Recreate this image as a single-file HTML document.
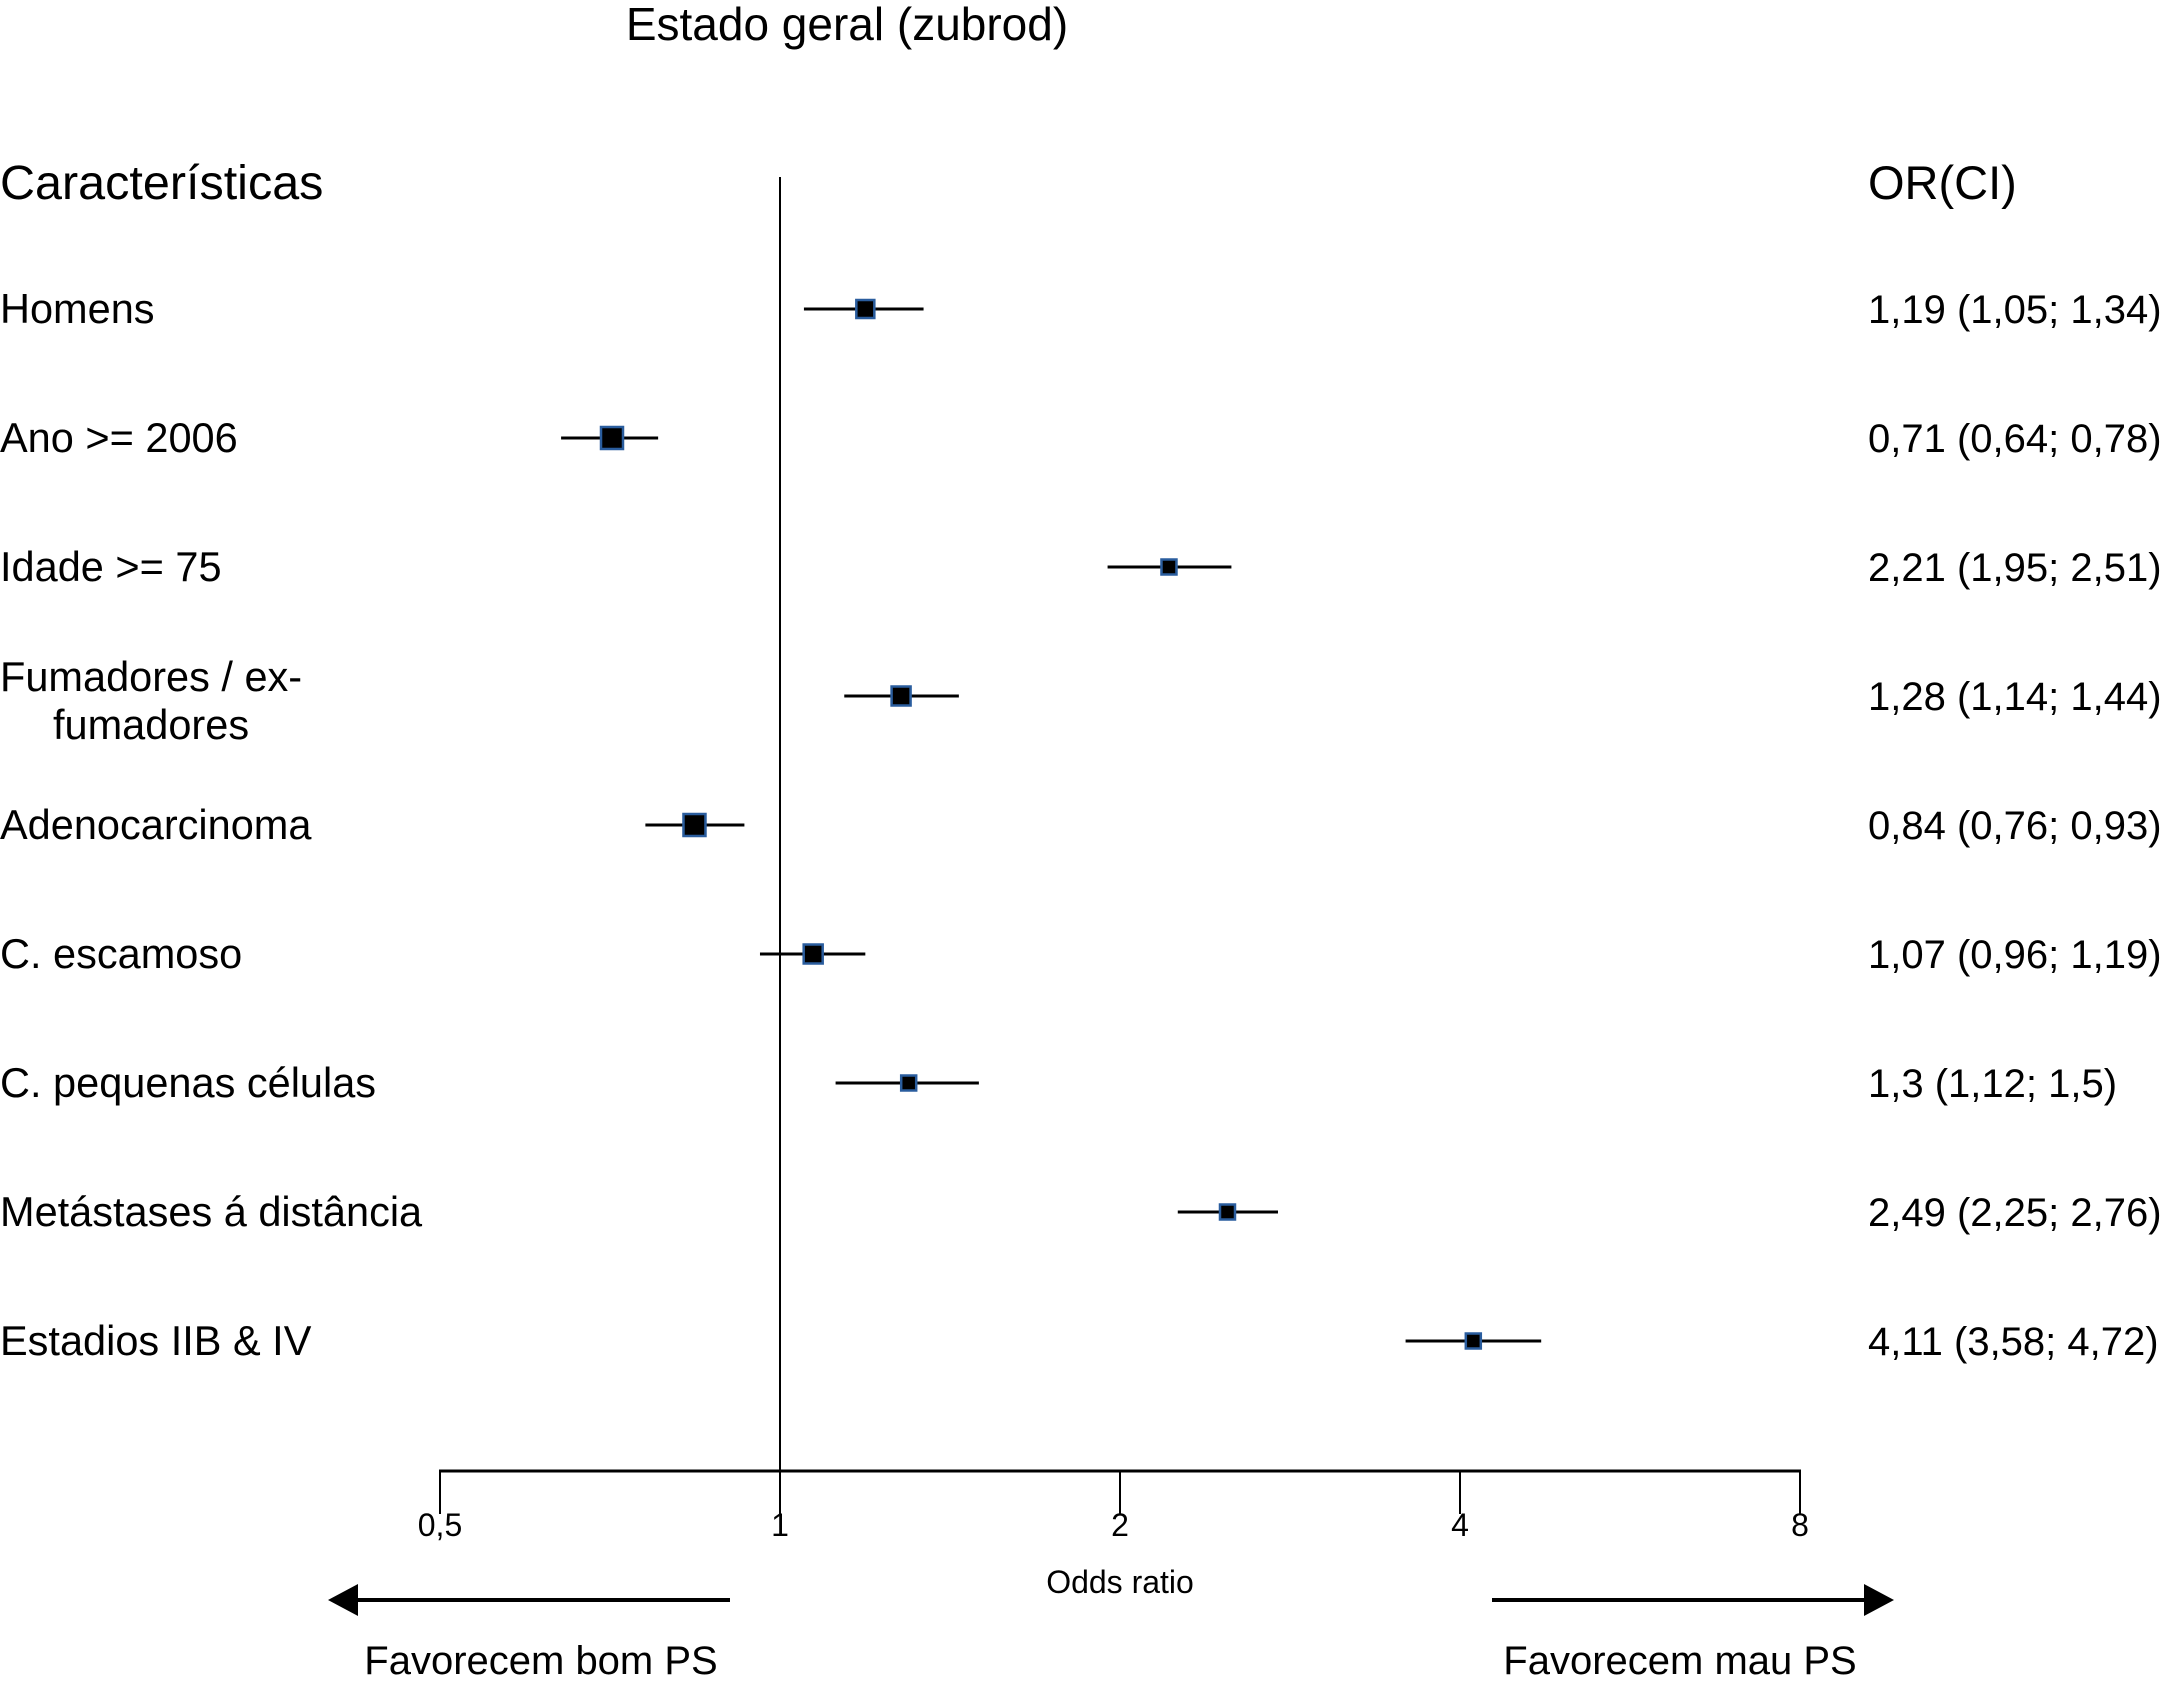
<!DOCTYPE html>
<html><head><meta charset="utf-8"><style>
html,body{margin:0;padding:0;background:#fff;}
svg{display:block;font-family:"Liberation Sans",Arial,sans-serif;}
</style></head><body>
<svg id="chart" width="2172" height="1683" viewBox="0 0 2172 1683">
<text x="847" y="40" font-size="46" text-anchor="middle">Estado geral (zubrod)</text>
<text x="0" y="199" font-size="48.5">Características</text>
<text x="1868" y="199" font-size="47">OR(CI)</text>
<line x1="780" y1="177" x2="780" y2="1471" stroke="#000" stroke-width="2"/>
<line x1="439" y1="1471" x2="1801" y2="1471" stroke="#000" stroke-width="3"/>
<g id="ticks"></g>
<g id="rows"></g>
<text x="1120" y="1593" font-size="32" text-anchor="middle">Odds ratio</text>
<line x1="350" y1="1600" x2="730" y2="1600" stroke="#000" stroke-width="4"/>
<polygon points="328,1600 358,1584 358,1616" fill="#000"/>
<line x1="1492" y1="1600" x2="1870" y2="1600" stroke="#000" stroke-width="4"/>
<polygon points="1894,1600 1864,1584 1864,1616" fill="#000"/>
<text x="541" y="1674" font-size="40" text-anchor="middle">Favorecem bom PS</text>
<text x="1680" y="1674" font-size="40" text-anchor="middle">Favorecem mau PS</text>
</svg>
<script>
const labels=["Homens","Ano >= 2006","Idade >= 75","Fumadores / ex-|fumadores","Adenocarcinoma","C. escamoso","C. pequenas células","Metástases á distância","Estadios IIB & IV"];
const orVals=[1.19,0.71,2.21,1.28,0.84,1.07,1.3,2.49,4.11];
const loVals=[1.05,0.64,1.95,1.14,0.76,0.96,1.12,2.25,3.58];
const hiVals=[1.34,0.78,2.51,1.44,0.93,1.19,1.5,2.76,4.72];
const ciText=["1,19 (1,05; 1,34)","0,71 (0,64; 0,78)","2,21 (1,95; 2,51)","1,28 (1,14; 1,44)","0,84 (0,76; 0,93)","1,07 (0,96; 1,19)","1,3 (1,12; 1,5)","2,49 (2,25; 2,76)","4,11 (3,58; 4,72)"];
const markerSize=[18,22,15,19,22,19,15,15,15];
const tickVals=[0.5,1,2,4,8];
const tickLabels=["0,5","1","2","4","8"];
const NS="http://www.w3.org/2000/svg";
function xs(v){return 780+340*Math.log2(v);}
function ys(i){return 309+129*i;}
function mk(tag,attrs,parent){const e=document.createElementNS(NS,tag);for(const k in attrs)e.setAttribute(k,attrs[k]);parent.appendChild(e);return e;}
const tg=document.getElementById('ticks');
tickVals.forEach((v,i)=>{
  const l=mk('line',{x1:xs(v),x2:xs(v),y1:1471,y2:1514,stroke:'#000','stroke-width':2},tg);
  
  
  const t=mk('text',{x:xs(v),y:1536,'font-size':32,'text-anchor':'middle'},tg);
  t.textContent=tickLabels[i];
  
  
});
const rg=document.getElementById('rows');
labels.forEach((lab,i)=>{
  const y=ys(i);
  const parts=lab.split('|');
  if(parts.length>1){
    const t1=mk('text',{x:0,y:y-19+14,'font-size':41.5},rg);t1.textContent=parts[0];
    
    
    const t2=mk('text',{x:53,y:y+29+14,'font-size':41.5},rg);t2.textContent=parts[1];
    
    
  } else {
    const t=mk('text',{x:0,y:y+14,'font-size':41.5},rg);t.textContent=lab;
    
    
  }
  const c=mk('line',{x1:xs(loVals[i]),x2:xs(hiVals[i]),y1:y,y2:y,stroke:'#000','stroke-width':3},rg);
  
  
  const s=markerSize[i];
  const r=mk('rect',{x:xs(orVals[i])-s/2,y:y-s/2,width:s,height:s,fill:'#000',stroke:'#2a5d9e','stroke-width':2.5},rg);
  
  
  const v=mk('text',{x:1868,y:y+14,'font-size':40},rg);v.textContent=ciText[i];
  
  
});
</script>
</body></html>
